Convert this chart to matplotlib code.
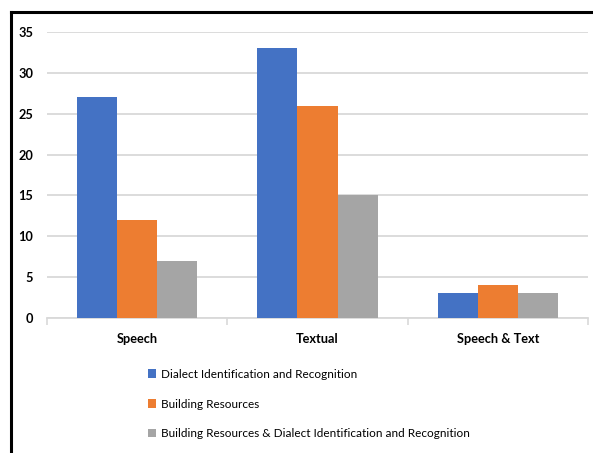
import matplotlib
matplotlib.use("Agg")
import matplotlib.pyplot as plt
from matplotlib.lines import Line2D
from matplotlib.patches import Patch
import numpy as np

categories = ["Speech", "Textual", "Speech & Text"]
series_names = [
    "Dialect Identification and Recognition",
    "Building Resources",
    "Building Resources & Dialect Identification and Recognition",
]
dialect_id = [27, 33, 3]
building_res = [12, 26, 4]
both = [7, 15, 3]
colors = ["#4472C4", "#ED7D31", "#A5A5A5"]
yticks = [0, 5, 10, 15, 20, 25, 30, 35]

W, H = 593, 453
fig = plt.figure(figsize=(W / 100, H / 100), dpi=100)
ax = fig.add_axes([47 / W, 1 - 318 / H, (588 - 47) / W, (318 - 32) / H])

x = np.arange(len(categories))
bw = 0.222
for i, (vals, col, name) in enumerate(zip([dialect_id, building_res, both], colors, series_names)):
    ax.bar(x + (i - 1) * bw, vals, width=bw, color=col, label=name, zorder=3)

ax.set_xlim(-0.5, len(categories) - 0.5)
ax.set_ylim(0, 35)
ax.set_yticks(yticks)
ax.set_yticklabels([str(v) for v in yticks], fontfamily="Lato", fontweight="bold", fontsize=9.2)
ax.yaxis.grid(True, color="#D9D9D9", linewidth=1.3, zorder=0)
ax.tick_params(axis="y", length=0, pad=10)

ax.set_xticks(x)
ax.set_xticklabels(categories, fontfamily="Lato", fontweight="bold", fontsize=9.2)
ax.tick_params(axis="x", which="major", length=0, pad=11)
ax.set_xticks(np.arange(len(categories) + 1) - 0.5, minor=True)
ax.tick_params(axis="x", which="minor", length=5, color="#D9D9D9", width=1.2)

for s in ["top", "right", "left"]:
    ax.spines[s].set_visible(False)
ax.spines["bottom"].set_color("#D9D9D9")
ax.spines["bottom"].set_linewidth(1.3)

handles = [Patch(facecolor=c, edgecolor="none") for c in colors]
fig.legend(
    handles, series_names,
    loc="upper left", bbox_to_anchor=(137 / W, 1 - 358 / H),
    frameon=False, prop={"family": "Lato", "size": 8.5},
    handlelength=0.7, handleheight=0.7, handletextpad=0.4,
    labelspacing=1.6,
)

# outer frame: top and left edges
fig.add_artist(Line2D([11 / W, 1], [1 - 12 / H, 1 - 12 / H], color="black", linewidth=2.2,
                      transform=fig.transFigure))
fig.add_artist(Line2D([11 / W, 11 / W], [1 - 12 / H, 0], color="black", linewidth=2.2,
                      transform=fig.transFigure))

fig.savefig("out.png", dpi=100)
